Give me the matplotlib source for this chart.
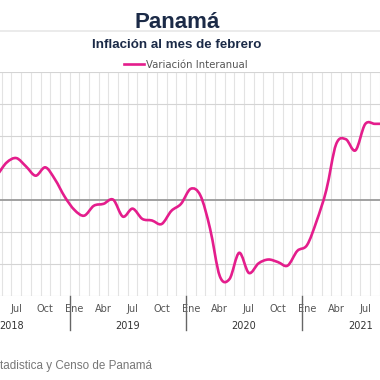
import numpy as np
import pandas as pd
import matplotlib
matplotlib.use("Agg")
import matplotlib.pyplot as plt
from matplotlib.path import Path
from matplotlib.patches import PathPatch
from matplotlib.lines import Line2D

# Data: monthly year-on-year inflation (%), Apr 2018 - Sep 2021
months = pd.date_range("2018-04-01", "2021-09-01", freq="MS")
inflation = [
    0.55, 0.78, 1.17, 1.31, 1.05, 0.76, 1.02, 0.64, 0.10,            # 2018
    -0.31, -0.49, -0.18, -0.12, 0.01, -0.52, -0.27, -0.59, -0.64,    # 2019
    -0.75, -0.34, -0.12,
    0.35, 0.14, -0.90, -2.38, -2.47, -1.65, -2.28, -1.98, -1.86,     # 2020
    -1.94, -2.05, -1.59,
    -1.41, -0.65, 0.32, 1.74, 1.90, 1.55, 2.37, 2.38, 2.38,          # 2021
]
month_names = ["Ene", "Feb", "Mar", "Abr", "May", "Jun",
               "Jul", "Ago", "Sep", "Oct", "Nov", "Dic"]
years = [2018, 2019, 2020, 2021]

title = "Panamá"
subtitle = "Inflación al mes de febrero"
series_name = "Variación Interanual"
# the source line is cut by the crop in the original, only this part shows
source = "tadistica y Censo de Panamá"

PINK = "#e41d8c"
NAVY = "#1b2a47"
GREY_TXT = "#555555"


def month_pos(d):
    """Month index relative to Jan 2019, placed at the middle of the month."""
    return (d.year - 2019) * 12 + (d.month - 1) + 0.5


def smooth_path(x, y):
    """Catmull-Rom curve through the points as cubic Bezier segments."""
    pts = np.column_stack([x, y])
    ext = np.vstack([pts[0], pts, pts[-1]])
    verts = [pts[0]]
    codes = [Path.MOVETO]
    for i in range(1, len(ext) - 2):
        p0, p1, p2, p3 = ext[i - 1], ext[i], ext[i + 1], ext[i + 2]
        verts += [p1 + (p2 - p0) / 6, p2 - (p3 - p1) / 6, p2]
        codes += [Path.CURVE4] * 3
    return Path(verts, codes)


x = np.array([month_pos(d) for d in months])
y = np.array(inflation)

W, H = 380, 380
fig = plt.figure(figsize=(W / 100, H / 100), dpi=100)
fig.patch.set_facecolor("white")

# plot area spans y pixels 72..296, full width (chart is cropped on both sides)
ax = fig.add_axes([0, 1 - 296 / H, 1, (296 - 72) / H])
ax.set_xlim(-69.6 / 9.69, (W - 69.6) / 9.69)
ax.set_ylim(-3, 4)
for s in ax.spines.values():
    s.set_visible(False)
ax.set_yticks([])

# grid
for m in range(-8, 34):
    ax.axvline(m, color="#e3e3e3", lw=0.8, zorder=1)
for v in range(-3, 5):
    if v != 0:
        ax.axhline(v, color="#d4d4d4", lw=0.8, zorder=1)
ax.axhline(0, color="#9a9a9a", lw=1.3, zorder=2)

# series
ax.add_patch(PathPatch(smooth_path(x, y), facecolor="none", edgecolor=PINK,
                       lw=1.9, capstyle="round", joinstyle="round", zorder=3))
ax.plot([], [], color=PINK, lw=1.9, label=series_name)

# month ticks every 3 months (labels centered in month)
tick_x = np.arange(-6, 32, 3) + 0.5
tick_lab = [month_names[int(np.floor(t)) % 12] for t in tick_x]
ax.set_xticks(tick_x, tick_lab)
ax.tick_params(axis="x", length=0, pad=6, labelsize=7, labelcolor=GREY_TXT)

# year labels and separators
for yr in years:
    start = (yr - 2019) * 12
    ax.text(start + 6, -0.134, str(yr), transform=ax.get_xaxis_transform(),
            ha="center", va="center", fontsize=7, color="#333333")
    if yr > 2018:
        ax.plot([start, start], [0, -0.152], transform=ax.get_xaxis_transform(),
                color="#666666", lw=1.0, clip_on=False, zorder=4)

# titles
fig.text(177.5 / W, 1 - 27.7 / H, title, ha="center", va="baseline",
         fontsize=16, fontweight="bold", family="Liberation Sans", color=NAVY)
fig.add_artist(Line2D([0, 1], [1 - 30.5 / H] * 2, color="#e8e8e8", lw=1.2))
fig.text(177 / W, 1 - 48.3 / H, subtitle, ha="center", va="baseline",
         fontsize=9.6, fontweight="bold", family="Liberation Sans", color=NAVY)

# legend
ax.legend(loc="center", bbox_to_anchor=(186 / W, 1 - 64.5 / H),
          bbox_transform=fig.transFigure, frameon=False, fontsize=7.3,
          handlelength=1.9, handletextpad=0.25, labelcolor=GREY_TXT,
          borderpad=0, borderaxespad=0)

# source
fig.text(0.5 / W, 1 - 366 / H, source, ha="left", va="center",
         fontsize=8.4, family="Liberation Sans", color="#777777")

fig.savefig("out.png", dpi=100, facecolor="white")
